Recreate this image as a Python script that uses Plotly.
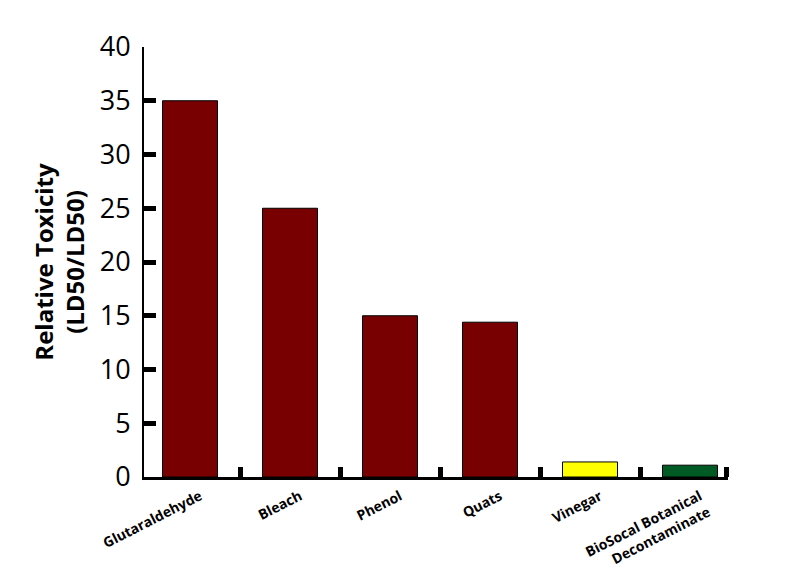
import plotly.graph_objects as go

categories = ["Glutaraldehyde", "Bleach", "Phenol", "Quats", "Vinegar",
              "BioSocal Botanical<br>Decontaminate"]
toxicity = [35.0, 25.0, 15.0, 14.4, 1.4, 1.1]
bar_colors = ["#780000", "#780000", "#780000", "#780000", "#FFFF00", "#005A23"]
y_ticks = [0, 5, 10, 15, 20, 25, 30, 35, 40]
divider_ticks = [0.5, 1.5, 2.5, 3.5, 4.5, 5.36]

FONT = "Open Sans"

fig = go.Figure()
fig.add_trace(go.Bar(
    x=list(range(len(categories))), y=toxicity,
    marker=dict(color=bar_colors, line=dict(color="black", width=1)),
    width=0.55, showlegend=False,
))
fig.add_trace(go.Scatter(x=[0], y=[0], xaxis="x2", mode="markers",
                         marker=dict(opacity=0), showlegend=False, hoverinfo="skip"))

fig.update_layout(
    width=788, height=586,
    margin=dict(l=136, r=68, t=39, b=117),
    plot_bgcolor="white", paper_bgcolor="white",
    font=dict(family=FONT, color="black"),
    xaxis=dict(
        range=[-0.46, 5.38],
        tickmode="array",
        tickvals=list(range(len(categories))),
        ticktext=["<b>%s</b>" % c for c in categories],
        tickangle=-27,
        tickfont=dict(size=14, family=FONT),
        ticklabelshift=10, ticklabelstandoff=3,
        ticks="", showline=True, linecolor="black", linewidth=3,
        showgrid=False, zeroline=False, automargin=False,
    ),
    xaxis2=dict(
        overlaying="x", range=[-0.46, 5.38], side="bottom",
        tickmode="array", tickvals=divider_ticks, showticklabels=False,
        ticks="inside", ticklen=10, tickwidth=5, tickcolor="black",
        showline=False, showgrid=False, zeroline=False, automargin=False,
    ),
    yaxis=dict(
        range=[0, 40], tickmode="array", tickvals=y_ticks,
        tickfont=dict(size=27, family=FONT),
        ticks="inside", ticklen=12, tickwidth=5, tickcolor="black",
        ticklabelstandoff=6,
        showline=True, linecolor="black", linewidth=2,
        showgrid=False, zeroline=False, automargin=False,
        title=dict(text="<b>Relative Toxicity<br>(LD50/LD50)</b>",
                   font=dict(size=24, family=FONT), standoff=8),
    ),
)

fig.write_html("out.html")
